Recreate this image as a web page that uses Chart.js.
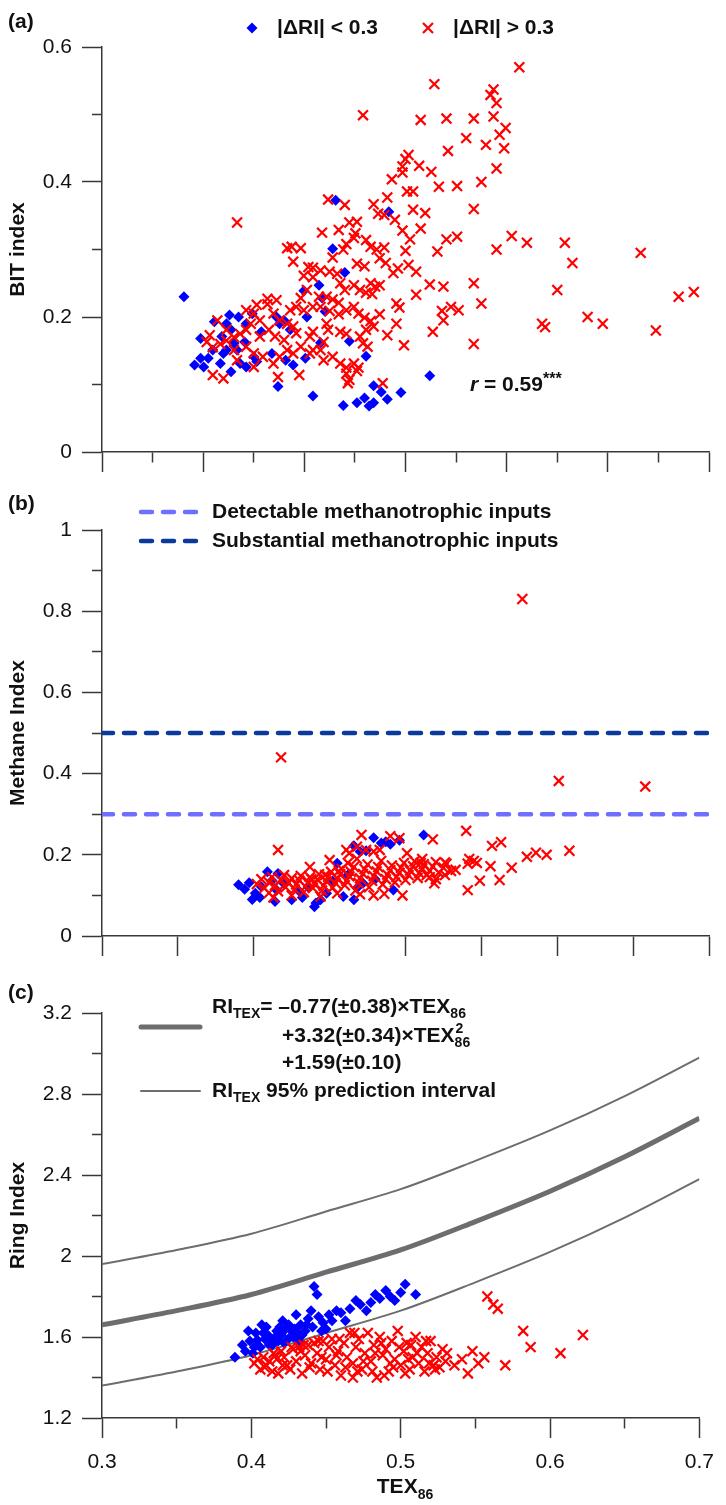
<!DOCTYPE html>
<html><head><meta charset="utf-8">
<script src="https://cdn.jsdelivr.net/npm/chart.js@4/dist/chart.umd.min.js"></script>
<style>
html,body{margin:0;padding:0;background:#fff;}
#wrap{position:relative;width:726px;height:1505px;overflow:hidden;}
canvas{position:absolute;left:0;}
</style></head><body>
<div id="wrap">
<canvas id="ca" width="726" height="480" style="top:0"></canvas>
<canvas id="cb" width="726" height="480" style="top:480px"></canvas>
<canvas id="cc" width="726" height="545" style="top:960px"></canvas>
</div>
<script>
// ---------------- DATA ----------------
const xTicksA = [0.3,0.3333,0.3667,0.4,0.4333,0.4667,0.5,0.5333,0.5667,0.6,0.6333,0.6667,0.7];
const xTicksBC = [0.3,0.35,0.4,0.45,0.5,0.55,0.6,0.65,0.7];
const xLabelsC = ['0.3','','0.4','','0.5','','0.6','','0.7'];
const yTicksA = [0,0.1,0.2,0.3,0.4,0.5,0.6];
const yLabelsA = ['0','','0.2','','0.4','','0.6'];
const yTicksB = [0,0.1,0.2,0.3,0.4,0.5,0.6,0.7,0.8,0.9,1];
const yLabelsB = ['0','','0.2','','0.4','','0.6','','0.8','','1'];
const yTicksC = [1.2,1.4,1.6,1.8,2.0,2.2,2.4,2.6,2.8,3.0,3.2];
const yLabelsC = ['1.2','','1.6','','2','','2.4','','2.8','','3.2'];

// (a) BIT index vs TEX86
const aBlue = [
[0.354,0.230],[0.454,0.373],[0.489,0.356],[0.452,0.301],[0.460,0.266],[0.443,0.247],[0.445,0.228],[0.447,0.208],[0.433,0.239],[0.444,0.162],
[0.463,0.164],[0.474,0.142],[0.516,0.113],[0.479,0.098],[0.484,0.089],[0.497,0.088],[0.488,0.078],[0.473,0.080],[0.468,0.073],[0.459,0.069],
[0.476,0.068],[0.479,0.073],[0.439,0.083],[0.416,0.097],[0.434,0.139],[0.426,0.129],[0.421,0.136],[0.361,0.129],[0.365,0.139],[0.367,0.126],
[0.365,0.168],[0.370,0.139],[0.373,0.151],[0.374,0.193],[0.379,0.171],[0.380,0.146],[0.382,0.190],[0.384,0.203],[0.385,0.181],[0.387,0.161],
[0.389,0.151],[0.390,0.200],[0.391,0.131],[0.385,0.119],[0.394,0.163],[0.395,0.190],[0.399,0.205],[0.400,0.141],[0.402,0.134],[0.405,0.178],
[0.415,0.200],[0.417,0.190],[0.420,0.195],[0.424,0.181],[0.412,0.146],[0.395,0.126],[0.382,0.151],[0.378,0.131],[0.435,0.200]
];
const aRed = [
[0.502,0.440],[0.500,0.434],[0.528,0.446],[0.498,0.423],[0.509,0.424],[0.517,0.415],[0.491,0.404],[0.498,0.414],[0.522,0.393],[0.534,0.394],
[0.501,0.386],[0.505,0.386],[0.449,0.374],[0.460,0.366],[0.479,0.367],[0.488,0.377],[0.482,0.353],[0.486,0.351],[0.505,0.359],[0.513,0.354],
[0.389,0.340],[0.463,0.340],[0.468,0.341],[0.493,0.344],[0.445,0.325],[0.456,0.329],[0.467,0.324],[0.498,0.328],[0.510,0.331],[0.503,0.315],
[0.527,0.315],[0.534,0.319],[0.466,0.317],[0.461,0.308],[0.459,0.300],[0.474,0.314],[0.477,0.304],[0.481,0.300],[0.486,0.303],[0.500,0.298],
[0.521,0.297],[0.422,0.302],[0.425,0.304],[0.431,0.302],[0.426,0.282],[0.452,0.288],[0.483,0.287],[0.487,0.280],[0.468,0.279],[0.473,0.275],
[0.436,0.274],[0.439,0.273],[0.444,0.269],[0.433,0.261],[0.439,0.259],[0.450,0.267],[0.455,0.264],[0.492,0.265],[0.495,0.272],[0.502,0.277],
[0.507,0.267],[0.516,0.248],[0.525,0.245],[0.507,0.233],[0.477,0.250],[0.480,0.245],[0.483,0.247],[0.466,0.247],[0.470,0.240],[0.474,0.236],
[0.478,0.234],[0.457,0.250],[0.460,0.240],[0.448,0.230],[0.452,0.226],[0.456,0.221],[0.435,0.240],[0.431,0.228],[0.428,0.215],[0.433,0.210],
[0.439,0.215],[0.444,0.215],[0.450,0.209],[0.456,0.204],[0.461,0.210],[0.466,0.215],[0.469,0.205],[0.473,0.199],[0.477,0.194],[0.483,0.204],
[0.494,0.220],[0.496,0.214],[0.524,0.209],[0.530,0.215],[0.525,0.195],[0.518,0.178],[0.494,0.190],[0.488,0.173],[0.499,0.158],[0.479,0.186],
[0.474,0.181],[0.470,0.171],[0.472,0.161],[0.475,0.156],[0.457,0.178],[0.461,0.175],[0.448,0.190],[0.449,0.181],[0.446,0.163],[0.439,0.178],
[0.437,0.171],[0.428,0.176],[0.426,0.186],[0.422,0.190],[0.417,0.195],[0.413,0.205],[0.409,0.219],[0.402,0.218],[0.400,0.205],[0.404,0.195],
[0.398,0.190],[0.395,0.181],[0.391,0.175],[0.387,0.170],[0.382,0.165],[0.378,0.160],[0.373,0.155],[0.371,0.173],[0.369,0.163],[0.376,0.195],
[0.387,0.151],[0.395,0.156],[0.400,0.146],[0.406,0.141],[0.413,0.131],[0.417,0.141],[0.422,0.151],[0.426,0.146],[0.431,0.156],[0.437,0.146],
[0.439,0.151],[0.446,0.136],[0.452,0.141],[0.444,0.151],[0.457,0.131],[0.461,0.125],[0.466,0.131],[0.469,0.125],[0.461,0.116],[0.463,0.107],
[0.462,0.102],[0.468,0.120],[0.416,0.111],[0.430,0.114],[0.380,0.109],[0.373,0.114],[0.485,0.102],[0.389,0.136],[0.400,0.126],[0.404,0.171],
[0.410,0.181],[0.414,0.171],[0.420,0.166],[0.395,0.210],[0.415,0.225],[0.409,0.227],[0.424,0.210],[0.382,0.181],[0.443,0.230],
[0.575,0.570],[0.519,0.545],[0.556,0.529],[0.558,0.537],[0.560,0.517],[0.472,0.499],[0.510,0.492],[0.527,0.494],[0.545,0.494],[0.558,0.497],
[0.540,0.465],[0.553,0.455],[0.562,0.470],[0.566,0.480],[0.550,0.400],[0.560,0.420],[0.565,0.450],[0.545,0.360],
[0.560,0.300],[0.570,0.320],[0.580,0.310],[0.590,0.190],[0.592,0.185],[0.600,0.240],[0.605,0.310],[0.610,0.280],[0.620,0.200],[0.630,0.190],
[0.655,0.295],[0.665,0.180],[0.680,0.230],[0.690,0.237],[0.545,0.250],[0.550,0.220],[0.535,0.210],[0.545,0.160]
];

// (b) Methane index vs TEX86
const bBlue = [
[0.512,0.249],[0.479,0.242],[0.484,0.229],[0.490,0.226],[0.496,0.236],[0.487,0.232],[0.470,0.208],[0.390,0.126],[0.397,0.131],[0.399,0.090],
[0.404,0.095],[0.409,0.158],[0.414,0.085],[0.416,0.154],[0.415,0.113],[0.425,0.089],[0.441,0.081],[0.444,0.089],[0.440,0.072],[0.459,0.097],
[0.466,0.089],[0.468,0.118],[0.492,0.113],[0.455,0.179],[0.405,0.121],[0.412,0.137],[0.420,0.129],[0.430,0.110],[0.436,0.120],[0.448,0.105],
[0.452,0.135],[0.462,0.150],[0.472,0.130],[0.480,0.140],[0.401,0.105],[0.394,0.115],[0.432,0.095],[0.474,0.210],[0.466,0.222]
];
const bRed = [
[0.402,0.128],[0.405,0.140],[0.407,0.118],[0.410,0.132],[0.412,0.145],[0.414,0.125],[0.416,0.110],[0.418,0.138],[0.420,0.150],[0.421,0.120],
[0.423,0.131],[0.425,0.142],[0.427,0.115],[0.428,0.127],[0.430,0.137],[0.431,0.148],[0.433,0.108],[0.434,0.122],[0.436,0.133],[0.437,0.145],
[0.439,0.118],[0.440,0.128],[0.442,0.139],[0.443,0.152],[0.445,0.112],[0.446,0.124],[0.448,0.135],[0.449,0.146],[0.451,0.158],[0.452,0.119],
[0.454,0.130],[0.455,0.141],[0.457,0.152],[0.458,0.165],[0.460,0.125],[0.461,0.136],[0.463,0.147],[0.464,0.158],[0.466,0.170],[0.467,0.112],
[0.469,0.131],[0.470,0.142],[0.472,0.153],[0.473,0.165],[0.475,0.176],[0.476,0.120],[0.478,0.136],[0.479,0.148],[0.481,0.159],[0.482,0.170],
[0.484,0.185],[0.485,0.127],[0.487,0.140],[0.488,0.151],[0.490,0.162],[0.491,0.174],[0.493,0.132],[0.494,0.145],[0.496,0.156],[0.497,0.168],
[0.499,0.180],[0.500,0.138],[0.502,0.150],[0.503,0.161],[0.505,0.172],[0.506,0.184],[0.508,0.143],[0.509,0.155],[0.511,0.166],[0.512,0.177],
[0.514,0.150],[0.516,0.160],[0.518,0.171],[0.520,0.182],[0.522,0.156],[0.525,0.168],[0.527,0.178],[0.530,0.160],
[0.479,0.100],[0.486,0.104],[0.498,0.100],[0.470,0.103],[0.455,0.105],[0.444,0.097],[0.425,0.100],[0.410,0.106],[0.413,0.095],[0.438,0.140],
[0.447,0.150],[0.456,0.160],[0.462,0.180],[0.468,0.190],
[0.461,0.212],[0.463,0.204],[0.468,0.220],[0.474,0.212],[0.479,0.208],[0.483,0.212],[0.471,0.249],[0.490,0.246],[0.496,0.241],[0.501,0.204],
[0.437,0.170],[0.450,0.187],[0.416,0.212],[0.418,0.440],[0.601,0.382],[0.540,0.259],[0.518,0.238],[0.557,0.222],[0.563,0.231],[0.580,0.195],
[0.586,0.205],[0.570,0.168],[0.562,0.138],[0.549,0.136],[0.541,0.113],[0.556,0.172],[0.541,0.178],[0.545,0.185],[0.547,0.180],[0.542,0.190],
[0.533,0.163],[0.526,0.181],[0.526,0.150],[0.520,0.140],[0.519,0.130],[0.516,0.145],[0.510,0.180],[0.511,0.190],[0.577,0.830],[0.608,0.210],
[0.658,0.368],[0.593,0.200]
];
const bLineX = [0.3, 0.7];
const bDetectY = [0.3, 0.3];
const bSubstY = [0.5, 0.5];

// (c) Ring index vs TEX86
const cBlue = [
[0.389,1.50],[0.394,1.56],[0.398,1.63],[0.401,1.52],[0.404,1.585],[0.407,1.66],[0.411,1.61],[0.414,1.56],[0.417,1.63],[0.421,1.68],
[0.424,1.585],[0.427,1.63],[0.430,1.71],[0.434,1.61],[0.437,1.66],[0.440,1.73],[0.442,1.85],[0.444,1.81],[0.447,1.63],[0.450,1.64],
[0.454,1.68],[0.457,1.73],[0.463,1.68],[0.470,1.78],[0.477,1.73],[0.483,1.81],[0.490,1.83],[0.496,1.78],[0.503,1.86],[0.510,1.81],
[0.402,1.55],[0.408,1.62],[0.412,1.56],[0.418,1.58],[0.423,1.64],[0.428,1.60],[0.433,1.66],
[0.396,1.53],[0.399,1.58],[0.403,1.62],[0.406,1.55],[0.409,1.59],[0.410,1.65],[0.413,1.58],[0.416,1.60],[0.419,1.65],[0.420,1.61],
[0.422,1.57],[0.425,1.66],[0.426,1.60],[0.429,1.64],[0.431,1.62],[0.432,1.58],[0.436,1.63],[0.438,1.69],[0.441,1.65],[0.445,1.70],
[0.448,1.67],[0.452,1.71],[0.460,1.72],[0.466,1.74],[0.473,1.76],[0.480,1.77],[0.486,1.79],[0.493,1.80],[0.500,1.82]
];
const cRed = [
[0.402,1.47],[0.404,1.49],[0.406,1.44],[0.408,1.50],[0.410,1.46],[0.412,1.48],[0.414,1.43],[0.416,1.51],[0.418,1.42],[0.420,1.53],
[0.422,1.50],[0.424,1.46],[0.426,1.44],[0.428,1.54],[0.430,1.48],[0.432,1.55],[0.434,1.42],[0.436,1.51],[0.438,1.56],[0.440,1.47],
[0.442,1.57],[0.444,1.52],[0.446,1.44],[0.448,1.58],[0.450,1.49],[0.452,1.55],[0.454,1.59],[0.456,1.46],[0.458,1.53],[0.460,1.41],
[0.462,1.57],[0.464,1.50],[0.466,1.62],[0.468,1.47],[0.470,1.55],[0.472,1.59],[0.474,1.44],[0.476,1.52],[0.478,1.62],[0.480,1.48],
[0.482,1.56],[0.484,1.40],[0.486,1.60],[0.488,1.51],[0.490,1.54],[0.492,1.43],[0.494,1.58],[0.496,1.49],[0.498,1.63],[0.500,1.46],
[0.502,1.53],[0.504,1.57],[0.506,1.44],[0.508,1.50],[0.510,1.60],[0.512,1.47],[0.514,1.55],[0.516,1.43],[0.518,1.52],[0.520,1.58],
[0.522,1.46],[0.524,1.50],[0.526,1.45],[0.528,1.54],[0.530,1.48],
[0.409,1.45],[0.415,1.52],[0.421,1.46],[0.427,1.55],[0.433,1.53],[0.439,1.45],[0.445,1.58],[0.451,1.43],[0.457,1.51],[0.463,1.45],
[0.469,1.62],[0.475,1.48],[0.481,1.43],[0.487,1.57],[0.493,1.47],[0.499,1.55],[0.505,1.49],[0.511,1.52],[0.517,1.58],[0.523,1.44],
[0.417,1.49],[0.435,1.56],[0.447,1.50],[0.459,1.59],[0.471,1.43],[0.483,1.52],[0.495,1.45],[0.507,1.56],[0.519,1.47],[0.531,1.52],
[0.536,1.46],[0.541,1.49],[0.468,1.40],[0.489,1.41],[0.503,1.42],
[0.558,1.80],[0.562,1.76],[0.565,1.74],[0.582,1.63],[0.587,1.55],[0.607,1.52],[0.622,1.61],[0.570,1.46],[0.552,1.47],[0.545,1.42],
[0.548,1.53],[0.556,1.50]
];
const cCurveX = [0.30,0.35,0.40,0.45,0.50,0.55,0.60,0.65,0.70];
const cFitY   = [1.66,1.73,1.81,1.92,2.03,2.17,2.32,2.49,2.68];
const cUpperY = [1.96,2.03,2.11,2.22,2.33,2.47,2.62,2.79,2.98];
const cLowerY = [1.36,1.43,1.51,1.62,1.73,1.87,2.02,2.19,2.38];

// ---------------- STYLE / HELPERS ----------------
const FONT = "'Liberation Sans', Arial, Helvetica, sans-serif";
const AX = '#383838';
const BLUE = '#0000ff', RED = '#ff0000';
const MAJ = 20, MIN = 10;

function pts(arr){ return arr.map(p => ({x:p[0], y:p[1]})); }
function zip(xs, ys){ return xs.map((x,i) => ({x:x, y:ys[i]})); }

function xScale(ticks, labels, isMajor, h){
  return {
    type:'linear', min:0.3, max:0.7,
    afterBuildTicks: s => { s.ticks = ticks.map(v => ({value:v})); },
    afterFit: s => { s.height = h; },
    ticks:{ autoSkip:false, maxRotation:0, minRotation:0, padding:12, color:'#111',
            font:{family:FONT, size:21}, callback:(v,i) => labels ? labels[i] : '' },
    grid:{ drawOnChartArea:false, drawTicks:true, tickLength:MAJ, tickColor:AX, tickWidth:1.5,
           tickBorderDash: c => isMajor(c.index) ? [] : [MIN, 1000] },
    border:{ display:true, color:AX, width:1.5 }
  };
}
function yScale(ticks, labels, min, max, title){
  return {
    type:'linear', min:min, max:max,
    afterBuildTicks: s => { s.ticks = ticks.map(v => ({value:v})); },
    afterFit: s => { s.width = 102; },
    ticks:{ autoSkip:false, padding:10, color:'#111', font:{family:FONT, size:21},
            callback:(v,i) => labels[i] },
    grid:{ drawOnChartArea:false, drawTicks:true, tickLength:MAJ, tickColor:AX, tickWidth:1.5,
           tickBorderDash: c => (c.index % 2 === 0) ? [] : [0, MAJ-MIN, MIN, 1000] },
    border:{ display:true, color:AX, width:1.5 },
    title:{ display:true, text:title, color:'#111', font:{family:FONT, size:21, weight:'bold'}, padding:{top:6,bottom:0} }
  };
}
function blueSet(data){
  return { type:'scatter', data:pts(data), pointStyle:'rectRot', pointRadius:5.5,
           backgroundColor:BLUE, borderColor:BLUE, borderWidth:0, order:2 };
}
function redSet(data){
  return { type:'scatter', data:pts(data), pointStyle:'crossRot', pointRadius:7,
           borderColor:RED, backgroundColor:RED, borderWidth:2.2, order:1 };
}
function text(ctx, s, x, y, size, opts){
  opts = opts || {};
  ctx.save();
  ctx.font = (opts.italic ? 'italic ' : '') + (opts.bold === false ? '' : 'bold ') + size + 'px ' + FONT;
  ctx.fillStyle = opts.color || '#111';
  ctx.textAlign = opts.align || 'left';
  ctx.textBaseline = 'middle';
  ctx.fillText(s, x, y);
  const w = ctx.measureText(s).width;
  ctx.restore();
  return w;
}
function common(padTop){
  return {
    responsive:false, animation:false, devicePixelRatio:1, events:[],
    layout:{ padding:{ top:padTop, right:17, left:0, bottom:0 } },
    plugins:{ legend:{display:false}, tooltip:{enabled:false} }
  };
}

// ---------------- (a) ----------------
new Chart(document.getElementById('ca'), {
  type:'scatter',
  data:{ datasets:[ redSet(aRed), blueSet(aBlue) ] },
  options: Object.assign(common(47), {
    scales:{
      x: xScale(xTicksA, null, i => i % 2 === 0, 28),
      y: yScale(yTicksA, yLabelsA, 0, 0.6, 'BIT index')
    }
  }),
  plugins:[{ id:'annA', afterDraw(chart){
    const ctx = chart.ctx;
    text(ctx, '(a)', 8, 22, 21);
    ctx.save(); ctx.fillStyle = BLUE; ctx.beginPath();
    ctx.moveTo(252, 22.5); ctx.lineTo(257.5, 28); ctx.lineTo(252, 33.5); ctx.lineTo(246.5, 28); ctx.closePath(); ctx.fill(); ctx.restore();
    text(ctx, '|\u0394RI| < 0.3', 277, 28, 21);
    ctx.save(); ctx.strokeStyle = RED; ctx.lineWidth = 2.2; ctx.beginPath();
    ctx.moveTo(423, 23); ctx.lineTo(433, 33); ctx.moveTo(433, 23); ctx.lineTo(423, 33); ctx.stroke(); ctx.restore();
    text(ctx, '|\u0394RI| > 0.3', 453, 28, 21);
    let x = 470;
    x += text(ctx, 'r', x, 385, 21, {italic:true});
    x += text(ctx, ' = 0.59', x, 385, 21);
    text(ctx, '***', x, 380, 16);
  }}]
});

// ---------------- (b) ----------------
new Chart(document.getElementById('cb'), {
  type:'scatter',
  data:{ datasets:[
    redSet(bRed), blueSet(bBlue),
    { type:'line', data:zip(bLineX, bDetectY), borderColor:'#6e6eff', borderWidth:4.5, borderDash:[11,11],
      borderCapStyle:'round', pointRadius:0, fill:false, order:3 },
    { type:'line', data:zip(bLineX, bSubstY), borderColor:'#0a3a9a', borderWidth:4.5, borderDash:[11,11],
      borderCapStyle:'round', pointRadius:0, fill:false, order:3 }
  ]},
  options: Object.assign(common(50), {
    scales:{
      x: xScale(xTicksBC, null, i => true, 24),
      y: yScale(yTicksB, yLabelsB, 0, 1, 'Methane Index')
    }
  }),
  plugins:[{ id:'annB', afterDraw(chart){
    const ctx = chart.ctx;
    text(ctx, '(b)', 8, 24, 21);
    ctx.save(); ctx.lineWidth = 4.5; ctx.lineCap = 'round'; ctx.setLineDash([11,11]);
    ctx.strokeStyle = '#6e6eff'; ctx.beginPath(); ctx.moveTo(141, 32); ctx.lineTo(200, 32); ctx.stroke();
    ctx.strokeStyle = '#0a3a9a'; ctx.beginPath(); ctx.moveTo(141, 61); ctx.lineTo(200, 61); ctx.stroke();
    ctx.restore();
    text(ctx, 'Detectable methanotrophic inputs', 212, 32, 21);
    text(ctx, 'Substantial methanotrophic inputs', 212, 61, 21);
  }}]
});

// ---------------- (c) ----------------
new Chart(document.getElementById('cc'), {
  type:'scatter',
  data:{ datasets:[
    redSet(cRed), blueSet(cBlue),
    { type:'line', data:zip(cCurveX, cFitY), borderColor:'#6d6d6d', borderWidth:5, pointRadius:0,
      cubicInterpolationMode:'monotone', fill:false, order:4 },
    { type:'line', data:zip(cCurveX, cUpperY), borderColor:'#6d6d6d', borderWidth:2, pointRadius:0,
      cubicInterpolationMode:'monotone', fill:false, order:4 },
    { type:'line', data:zip(cCurveX, cLowerY), borderColor:'#6d6d6d', borderWidth:2, pointRadius:0,
      cubicInterpolationMode:'monotone', fill:false, order:4 }
  ]},
  options: Object.assign(common(53), {
    scales:{
      x: xScale(xTicksBC, xLabelsC, i => i % 2 === 0, 87),
      y: yScale(yTicksC, yLabelsC, 1.2, 3.2, 'Ring Index')
    }
  }),
  plugins:[{ id:'annC', afterDraw(chart){
    const ctx = chart.ctx;
    text(ctx, '(c)', 8, 33, 21);
    ctx.save(); ctx.strokeStyle = '#6d6d6d'; ctx.lineCap = 'round';
    ctx.lineWidth = 5; ctx.beginPath(); ctx.moveTo(141, 67); ctx.lineTo(200, 67); ctx.stroke();
    ctx.lineWidth = 2; ctx.beginPath(); ctx.moveTo(141, 131); ctx.lineTo(200, 131); ctx.stroke();
    ctx.restore();
    let x = 212, y = 47;
    x += text(ctx, 'RI', x, y, 21);
    x += text(ctx, 'TEX', x, y + 7, 14);
    x += text(ctx, '= \u20130.77(\u00b10.38)\u00d7TEX', x, y, 21);
    text(ctx, '86', x, y + 7, 14);
    x = 282; y = 76;
    x += text(ctx, '+3.32(\u00b10.34)\u00d7TEX', x, y, 21);
    text(ctx, '2', x + 1, y - 7, 14);
    text(ctx, '86', x, y + 7, 14);
    text(ctx, '+1.59(\u00b10.10)', 282, 103, 21);
    x = 212; y = 131;
    x += text(ctx, 'RI', x, y, 21);
    x += text(ctx, 'TEX', x, y + 7, 14);
    text(ctx, ' 95% prediction interval', x, y, 21);
    ctx.save(); ctx.font = 'bold 21px ' + FONT;
    const w1 = ctx.measureText('TEX').width; ctx.font = 'bold 14px ' + FONT;
    const w2 = ctx.measureText('86').width; ctx.restore();
    const x0 = 405 - (w1 + w2) / 2;
    text(ctx, 'TEX', x0, 527, 21);
    text(ctx, '86', x0 + w1, 535, 14);
  }}]
});
</script>
</body></html>
